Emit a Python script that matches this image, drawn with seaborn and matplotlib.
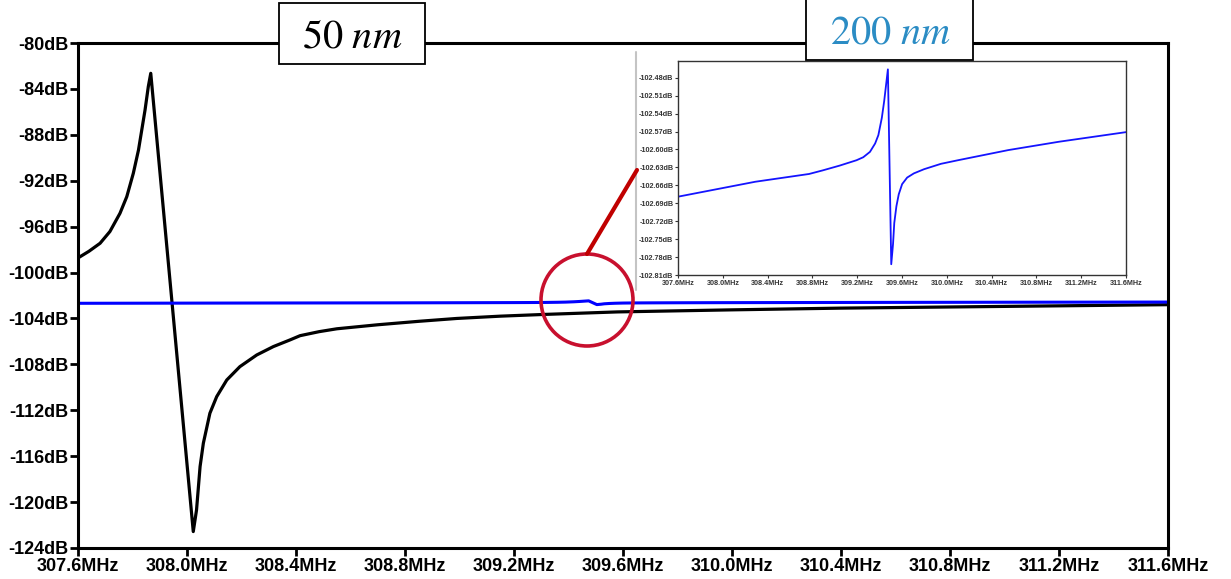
import matplotlib
matplotlib.use("Agg")
import matplotlib.pyplot as plt
import seaborn as sns
from matplotlib.patches import Rectangle, Ellipse
from matplotlib.lines import Line2D
from matplotlib.ticker import FuncFormatter

# --- data ---
# 50 nm resonator (black curve)
f_50 = [307.600, 307.640, 307.681, 307.717, 307.754, 307.779, 307.803, 307.822,
        307.834, 307.846, 307.858, 307.867, 308.023, 308.035, 308.048, 308.060,
        308.084, 308.109, 308.146, 308.194, 308.256, 308.317, 308.378, 308.415,
        308.485, 308.550, 308.700, 308.850, 308.990, 309.150, 309.310, 309.580,
        310.000, 310.400, 310.800, 311.200, 311.600]
db_50 = [-98.73, -98.15, -97.45, -96.43, -94.84, -93.39, -91.35, -89.32,
         -87.58, -85.84, -83.80, -82.64, -122.57, -120.68, -116.90, -114.87,
         -112.26, -110.81, -109.36, -108.20, -107.18, -106.45, -105.87, -105.50,
         -105.15, -104.90, -104.55, -104.25, -104.00, -103.80, -103.65, -103.43,
         -103.25, -103.10, -103.00, -102.90, -102.80]

# 200 nm resonator (blue curve, also shown zoomed in the inset)
f_200 = [307.600, 308.290, 308.770, 308.892, 309.043, 309.194, 309.254, 309.314,
         309.360, 309.389, 309.420, 309.441, 309.459, 309.474, 309.504, 309.520,
         309.531, 309.550, 309.571, 309.601, 309.646, 309.706, 309.797, 309.948,
         310.100, 310.550, 311.004, 311.600]
db_200 = [-102.679, -102.654, -102.641, -102.635, -102.627, -102.618, -102.613, -102.604,
          -102.590, -102.576, -102.547, -102.519, -102.490, -102.466, -102.792, -102.758,
          -102.723, -102.695, -102.675, -102.658, -102.647, -102.640, -102.633, -102.624,
          -102.618, -102.601, -102.587, -102.571]

freq_ticks = [307.6, 308.0, 308.4, 308.8, 309.2, 309.6, 310.0, 310.4, 310.8, 311.2, 311.6]
main_db_ticks = [-124, -120, -116, -112, -108, -104, -100, -96, -92, -88, -84, -80]
inset_db_ticks = [-102.81, -102.78, -102.75, -102.72, -102.69, -102.66,
                  -102.63, -102.60, -102.57, -102.54, -102.51, -102.48]

label_50 = r"$50\ nm$"
label_200 = r"$200\ nm$"

# --- style ---
sns.set_style("white")
plt.rcParams["font.family"] = ["Liberation Sans", "DejaVu Sans"]
plt.rcParams["mathtext.fontset"] = "stix"

W, H = 1231, 579
fig = plt.figure(figsize=(W / 100, H / 100), dpi=100)


def fx(px):
    return px / W


def fy(py):
    return 1 - py / H


# main axes
ax = fig.add_axes([fx(78), fy(548), fx(1168) - fx(78), fy(43) - fy(548)])
sns.lineplot(x=f_50, y=db_50, ax=ax, color="black", lw=2.3, estimator=None, sort=False)
sns.lineplot(x=f_200, y=db_200, ax=ax, color="#0000ff", lw=2.2, estimator=None, sort=False)
ax.set_xlim(freq_ticks[0], freq_ticks[-1])
ax.set_ylim(main_db_ticks[0], main_db_ticks[-1])
ax.set_xticks(freq_ticks)
ax.set_yticks(main_db_ticks)
ax.xaxis.set_major_formatter(FuncFormatter(lambda v, p: f"{v:.1f}MHz"))
ax.yaxis.set_major_formatter(FuncFormatter(lambda v, p: f"{v:.0f}dB"))
ax.tick_params(direction="out", length=6, width=2, labelsize=13, pad=1,
               left=True, bottom=True, colors="black")
for lbl in ax.get_xticklabels() + ax.get_yticklabels():
    lbl.set_fontweight("bold")
for s in ax.spines.values():
    s.set_linewidth(2.2)
    s.set_color("black")

# inset axes (zoom on the 200 nm curve)
axi = fig.add_axes([fx(678), fy(275), fx(1126) - fx(678), fy(61) - fy(275)])
sns.lineplot(x=f_200, y=db_200, ax=axi, color="#1414ff", lw=1.3, estimator=None, sort=False)
axi.set_xlim(freq_ticks[0], freq_ticks[-1])
axi.set_ylim(inset_db_ticks[0], -102.452)
axi.set_xticks(freq_ticks)
axi.set_yticks(inset_db_ticks)
axi.xaxis.set_major_formatter(FuncFormatter(lambda v, p: f"{v:.1f}MHz"))
axi.yaxis.set_major_formatter(FuncFormatter(lambda v, p: f"{v:.2f}dB"))
axi.tick_params(direction="out", length=2.5, width=0.8, labelsize=5.2, pad=0.8,
                left=True, bottom=True, colors="#333333")
for lbl in axi.get_xticklabels() + axi.get_yticklabels():
    lbl.set_fontweight("bold")
for s in axi.spines.values():
    s.set_linewidth(1.0)
    s.set_color("#333333")

# grey border on the left of the pasted inset
fig.add_artist(Line2D([fx(636), fx(636)], [fy(52), fy(290)], transform=fig.transFigure,
                      color="#c4c4c4", lw=1.5))

# red circle + pointer to the inset
fig.add_artist(Ellipse((fx(587), fy(300)), 92 / W, 92 / H, transform=fig.transFigure,
                       fill=False, edgecolor="#c8102e", lw=2.6, zorder=6))
fig.add_artist(Line2D([fx(587), fx(637)], [fy(254), fy(170)], transform=fig.transFigure,
                      color="#c00000", lw=3, zorder=6))

# label boxes
fig.add_artist(Rectangle((fx(279), fy(64)), fx(425) - fx(279), fy(3) - fy(64),
                         transform=fig.transFigure, facecolor="white",
                         edgecolor="black", lw=1.3, zorder=5))
fig.text(fx(352), fy(36), label_50, ha="center", va="center", fontsize=29,
         color="black", zorder=7)
fig.add_artist(Rectangle((fx(806), fy(60)), fx(973) - fx(806), fy(-2) - fy(60),
                         transform=fig.transFigure, facecolor="white",
                         edgecolor="black", lw=1.3, zorder=5))
fig.text(fx(890), fy(32), label_200, ha="center", va="center", fontsize=29,
         color="#2b8cc4", zorder=7)

fig.savefig("out.png", dpi=100)
